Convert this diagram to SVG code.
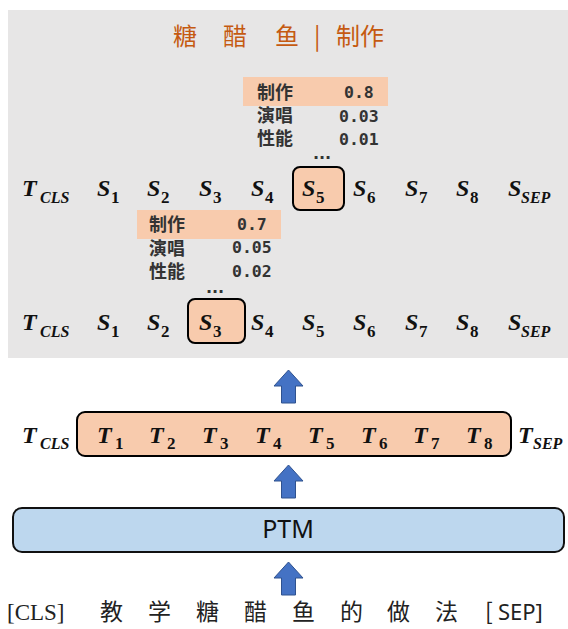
<svg xmlns="http://www.w3.org/2000/svg" width="568" height="629" viewBox="0 0 568 629">
<defs>
<style>
.m{font-family:"Liberation Serif","DejaVu Serif",serif;font-weight:bold;font-style:italic;font-size:24px;fill:#111}
.sd{font-family:"Liberation Serif","DejaVu Serif",serif;font-weight:bold;font-size:17px;fill:#111}
.si{font-family:"Liberation Serif","DejaVu Serif",serif;font-weight:bold;font-style:italic;font-size:16px;fill:#111}
.hl{fill:#F8CBAD;stroke:#000;stroke-width:2}
.pop{fill:#F8CBAD}
.cn{font-family:"Noto Sans CJK SC",sans-serif;font-weight:bold;font-size:18px;fill:#333}
.num{font-family:"DejaVu Sans Mono",monospace;font-weight:bold;font-size:16.5px;fill:#333}
.dots{font-family:"DejaVu Sans",sans-serif;font-weight:bold;font-size:16px;fill:#333}
.arrow{fill:#4472C4;stroke:#2F528F;stroke-width:1}
.title{font-family:"Noto Sans CJK SC",sans-serif;font-size:24px;fill:#C55A11}
.bot{font-family:"Noto Sans CJK SC",sans-serif;font-size:23px;fill:#222}
</style>
<path id="up" d="M0,0 L14.5,16 L7,16 L7,33 L-7,33 L-7,16 L-14.5,16 Z"/>
</defs>

<rect id="panel" x="8" y="10" width="560" height="348" fill="#E7E6E6"/>

<g id="title">
<text class="title" y="45"><tspan x="173">糖</tspan><tspan x="223">醋</tspan><tspan x="275">鱼</tspan><tspan x="314">|</tspan><tspan x="336">制作</tspan></text>
</g>

<g id="popup-s5">
<rect class="pop" x="243" y="77" width="145" height="29"/>
<text class="cn" x="257" y="99">制作</text><text class="num" x="344" y="98">0.8</text>
<text class="cn" x="257" y="122">演唱</text><text class="num" x="339" y="122">0.03</text>
<text class="cn" x="257" y="145">性能</text><text class="num" x="339" y="145">0.01</text>
<text class="dots" x="322" y="159" text-anchor="middle">...</text>
</g>

<g id="row1">
<rect class="hl" x="293" y="167" width="51" height="43" rx="7"/>
<text class="m" x="22" y="196">T</text><text class="si" x="40" y="203">CLS</text>
<text class="m" x="97" y="196">S</text><text class="sd" x="111" y="203">1</text>
<text class="m" x="147" y="196">S</text><text class="sd" x="161" y="203">2</text>
<text class="m" x="199" y="196">S</text><text class="sd" x="213" y="203">3</text>
<text class="m" x="251" y="196">S</text><text class="sd" x="265" y="203">4</text>
<text class="m" x="302" y="196">S</text><text class="sd" x="316" y="203">5</text>
<text class="m" x="353" y="196">S</text><text class="sd" x="367" y="203">6</text>
<text class="m" x="405" y="196">S</text><text class="sd" x="419" y="203">7</text>
<text class="m" x="456" y="196">S</text><text class="sd" x="470" y="203">8</text>
<text class="m" x="508" y="196">S</text><text class="si" x="521" y="203">SEP</text>
</g>

<g id="popup-s3">
<rect class="pop" x="137" y="210" width="144" height="29"/>
<text class="cn" x="149" y="231">制作</text><text class="num" x="237" y="230">0.7</text>
<text class="cn" x="149" y="255">演唱</text><text class="num" x="232" y="253">0.05</text>
<text class="cn" x="149" y="278">性能</text><text class="num" x="232" y="277">0.02</text>
<text class="dots" x="215" y="293" text-anchor="middle">...</text>
</g>

<g id="row2">
<rect class="hl" x="188" y="299" width="57" height="44" rx="7"/>
<text class="m" x="22" y="330">T</text><text class="si" x="40" y="337">CLS</text>
<text class="m" x="97" y="330">S</text><text class="sd" x="111" y="337">1</text>
<text class="m" x="147" y="330">S</text><text class="sd" x="161" y="337">2</text>
<text class="m" x="199" y="330">S</text><text class="sd" x="213" y="337">3</text>
<text class="m" x="251" y="330">S</text><text class="sd" x="265" y="337">4</text>
<text class="m" x="302" y="330">S</text><text class="sd" x="316" y="337">5</text>
<text class="m" x="353" y="330">S</text><text class="sd" x="367" y="337">6</text>
<text class="m" x="405" y="330">S</text><text class="sd" x="419" y="337">7</text>
<text class="m" x="456" y="330">S</text><text class="sd" x="470" y="337">8</text>
<text class="m" x="508" y="330">S</text><text class="si" x="521" y="337">SEP</text>
</g>

<g id="token-row">
<rect class="hl" x="77" y="412" width="434" height="44" rx="8"/>
<text class="m" x="22" y="443">T</text><text class="si" x="40" y="449">CLS</text>
<text class="m" x="97" y="443">T</text><text class="sd" x="115" y="449">1</text>
<text class="m" x="149" y="443">T</text><text class="sd" x="167" y="449">2</text>
<text class="m" x="202" y="443">T</text><text class="sd" x="220" y="449">3</text>
<text class="m" x="255" y="443">T</text><text class="sd" x="273" y="449">4</text>
<text class="m" x="308" y="443">T</text><text class="sd" x="326" y="449">5</text>
<text class="m" x="361" y="443">T</text><text class="sd" x="379" y="449">6</text>
<text class="m" x="413" y="443">T</text><text class="sd" x="431" y="449">7</text>
<text class="m" x="466" y="443">T</text><text class="sd" x="484" y="449">8</text>
<text class="m" x="518" y="443">T</text><text class="si" x="533" y="449">SEP</text>
</g>

<g id="ptm">
<rect x="13" y="508" width="551" height="44" rx="9" fill="#BDD7EE" stroke="#111" stroke-width="2"/>
<text x="288" y="538" text-anchor="middle" font-family="Noto Sans, sans-serif" font-size="25" fill="#111">PTM</text>
</g>

<g id="input">
<text class="bot" y="620"><tspan x="7" font-family="Liberation Serif, serif">[CLS]</tspan><tspan x="100">教</tspan><tspan x="148">学</tspan><tspan x="196">糖</tspan><tspan x="244">醋</tspan><tspan x="292">鱼</tspan><tspan x="340">的</tspan><tspan x="387">做</tspan><tspan x="435">法</tspan><tspan x="485">[</tspan><tspan x="498" font-family="Noto Sans, sans-serif" font-size="22">SEP]</tspan></text>
</g>

<g id="connectors">
<use href="#up" x="288.5" y="370" class="arrow"/>
<use href="#up" x="288.5" y="465" class="arrow"/>
<use href="#up" x="288.5" y="562" class="arrow"/>
</g>
</svg>
